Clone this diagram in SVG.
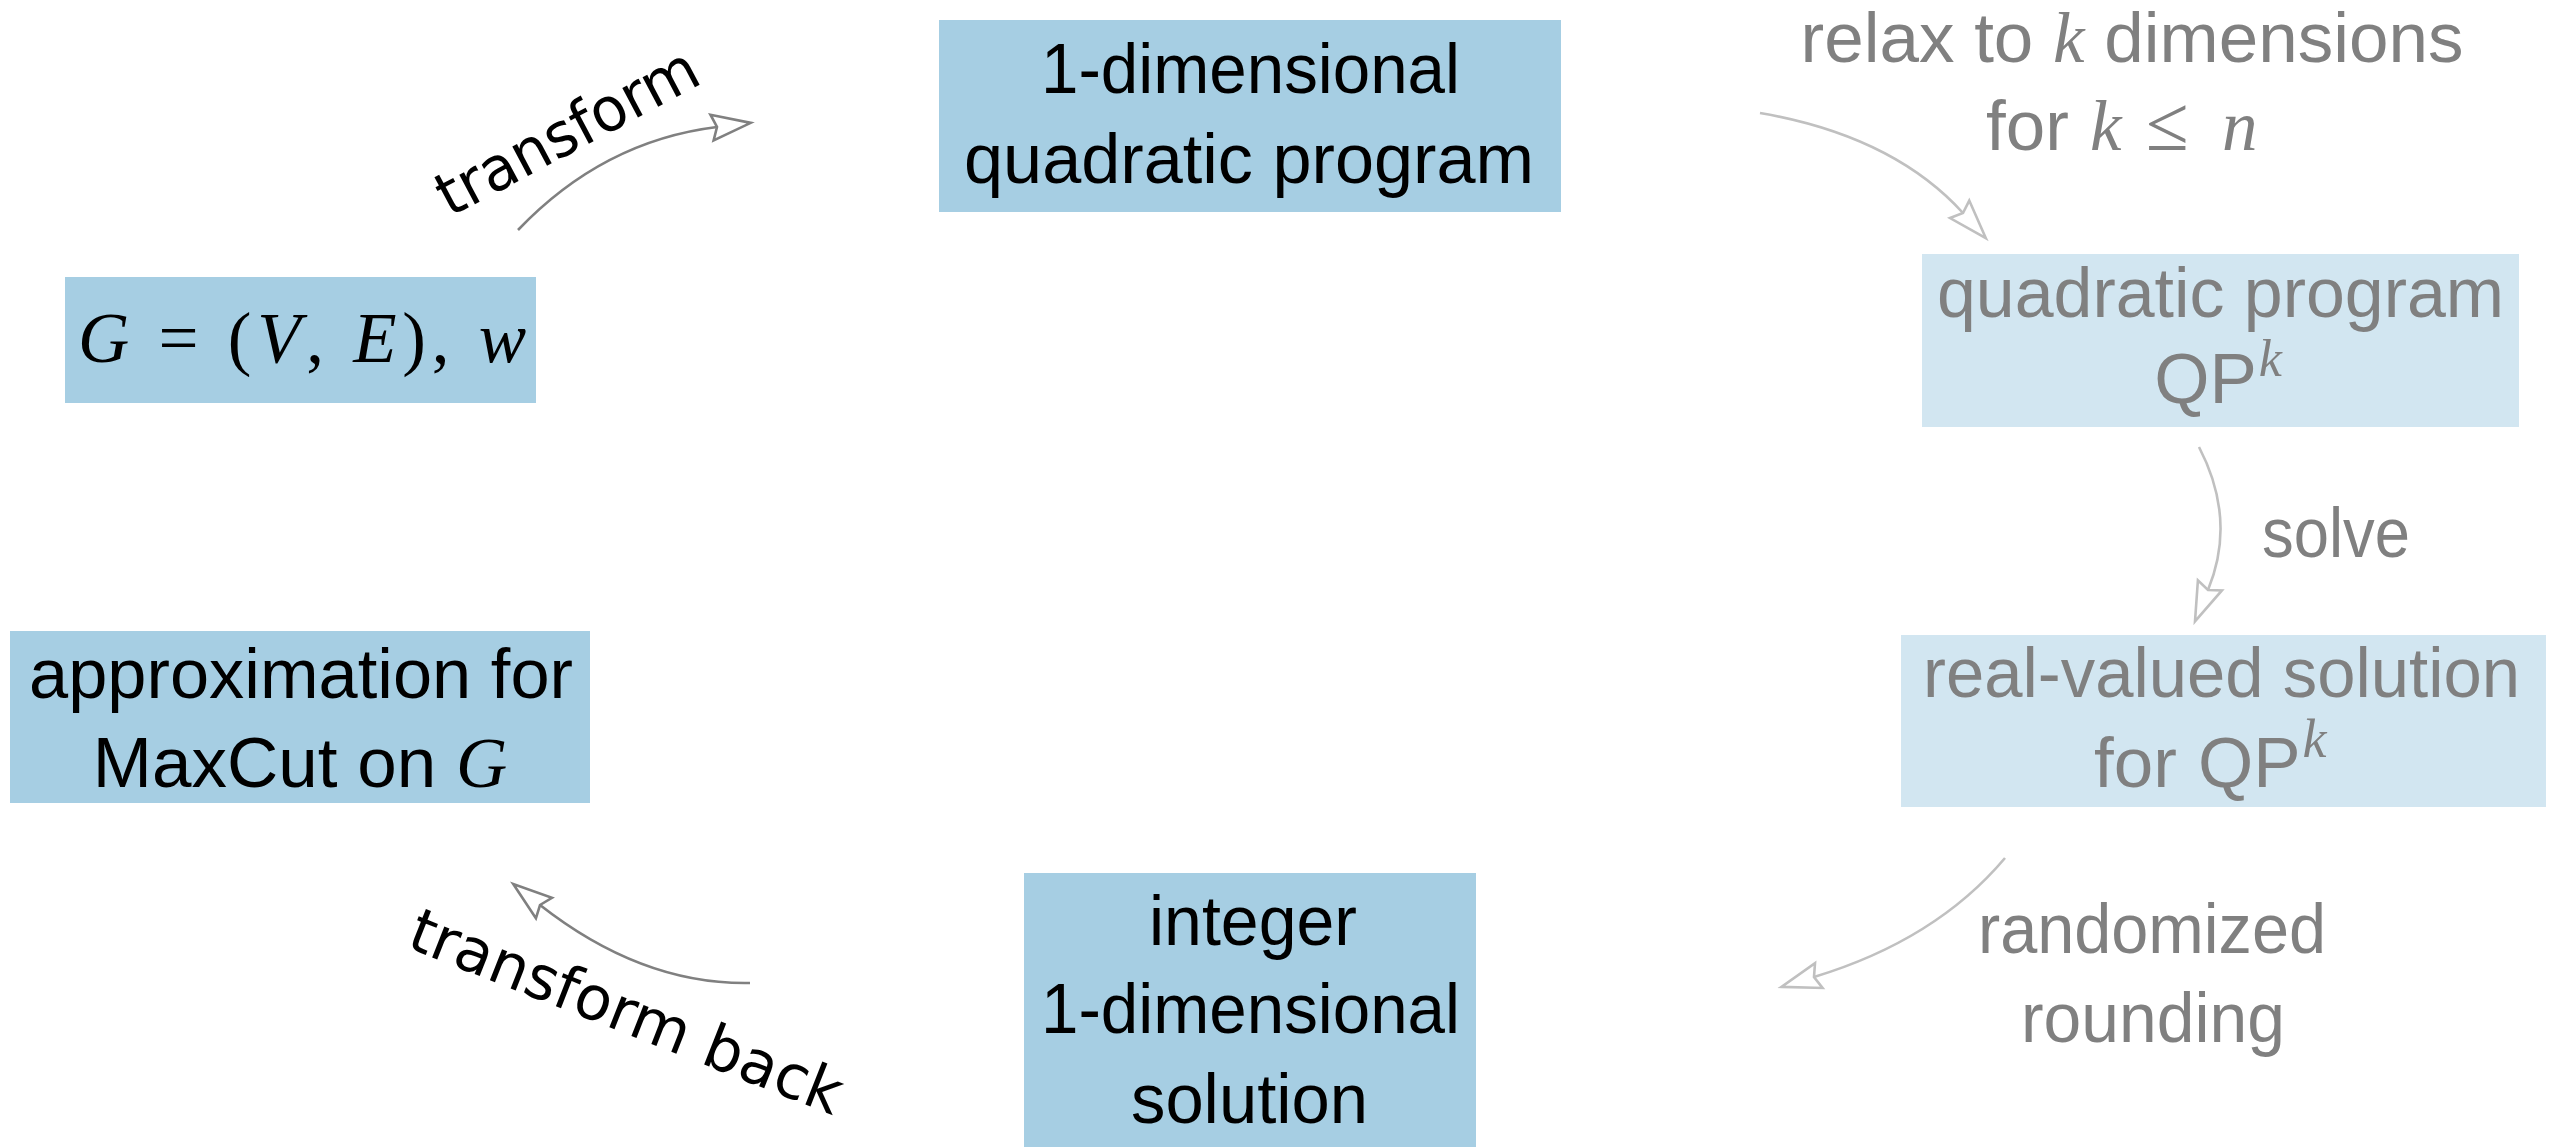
<svg xmlns="http://www.w3.org/2000/svg" width="2559" height="1147" viewBox="0 0 2559 1147">
<style>
.dark{fill:#a6cee3}
.light{fill:#d2e6f1}
.t{font-family:"Liberation Sans",Arial,sans-serif;font-size:71px;fill:#000}
.g{fill:#808080}
.m{font-family:"Liberation Serif","Times New Roman",serif;font-style:italic}
.mu{font-family:"Liberation Serif","Times New Roman",serif}
.lbl{font-family:"DejaVu Sans",sans-serif;font-size:61px;fill:#000}
.cd{fill:none;stroke:#808080;stroke-width:2.6}
.cl{fill:none;stroke:#c0c0c0;stroke-width:2.6}
</style>
<defs>
<marker id="ad" markerUnits="userSpaceOnUse" markerWidth="80" markerHeight="80" refX="0" refY="0" orient="auto" overflow="visible">
<path d="M34,0 L-5,-13 L0,0 L-5,13 Z" fill="#fff" stroke="#808080" stroke-width="2.6" stroke-linejoin="miter"/>
</marker>
<marker id="al" markerUnits="userSpaceOnUse" markerWidth="80" markerHeight="80" refX="0" refY="0" orient="auto" overflow="visible">
<path d="M34,0 L-5,-13 L0,0 L-5,13 Z" fill="#fff" stroke="#c0c0c0" stroke-width="2.6" stroke-linejoin="miter"/>
</marker>
</defs>
<rect width="2559" height="1147" fill="#fff"/>

<g id="connectors">
<path class="cd" d="M518,230 Q603,141 717,127" marker-end="url(#ad)"/>
<path class="cl" d="M1760,113 Q1893,136 1963,213" marker-end="url(#al)"/>
<path class="cl" d="M2199,447 Q2237,520 2208,590" marker-end="url(#al)"/>
<path class="cl" d="M2005,858 Q1936,940 1814,977" marker-end="url(#al)"/>
<path class="cd" d="M750,983 Q642,985 540,905" marker-end="url(#ad)"/>
<text class="lbl" text-anchor="middle" transform="translate(577,150) rotate(-28)" textLength="288" lengthAdjust="spacingAndGlyphs">transform</text>
<text class="lbl" text-anchor="middle" transform="translate(619,1031) rotate(21.5)" textLength="460" lengthAdjust="spacingAndGlyphs">transform back</text>
<text class="t g" x="2132" y="62" text-anchor="middle">relax to <tspan class="m">k</tspan> dimensions</text>
<text class="t g" y="150"><tspan x="1986">for</tspan><tspan class="m" x="2090">k</tspan><tspan class="mu" x="2146" font-size="78">≤</tspan><tspan class="m" x="2222">n</tspan></text>
<text class="t g" x="2262" y="557" textLength="148" lengthAdjust="spacingAndGlyphs">solve</text>
<text class="t g" x="1978" y="953" textLength="348" lengthAdjust="spacingAndGlyphs">randomized</text>
<text class="t g" x="2021" y="1042" textLength="264" lengthAdjust="spacingAndGlyphs">rounding</text>
</g>

<g id="node-graph">
<rect class="dark" x="65" y="277" width="471" height="126"/>
<text class="t mu" x="78" y="362" font-size="80" textLength="448" lengthAdjust="spacing"><tspan class="m">G</tspan> = (<tspan class="m">V</tspan>, <tspan class="m">E</tspan>), <tspan class="m">w</tspan></text>
</g>

<g id="node-1d-qp">
<rect class="dark" x="939" y="20" width="622" height="192"/>
<text class="t" x="1041" y="93" textLength="419" lengthAdjust="spacingAndGlyphs">1-dimensional</text>
<text class="t" x="964" y="183" textLength="570" lengthAdjust="spacingAndGlyphs">quadratic program</text>
</g>

<g id="node-qpk">
<rect class="light" x="1922" y="254" width="597" height="173"/>
<text class="t g" x="1937" y="317" textLength="567" lengthAdjust="spacingAndGlyphs">quadratic program</text>
<text class="t g" x="2218" y="403" text-anchor="middle">QP<tspan class="m" font-size="52" dx="2" dy="-27">k</tspan></text>
</g>

<g id="node-real">
<rect class="light" x="1901" y="635" width="645" height="172"/>
<text class="t g" x="1923" y="697" textLength="597" lengthAdjust="spacingAndGlyphs">real-valued solution</text>
<text class="t g" y="787"><tspan x="2094">for</tspan><tspan x="2198">QP</tspan><tspan class="m" font-size="54" dx="2" dy="-30">k</tspan></text>
</g>

<g id="node-integer">
<rect class="dark" x="1024" y="873" width="452" height="280"/>
<text class="t" x="1149" y="945" textLength="208" lengthAdjust="spacingAndGlyphs">integer</text>
<text class="t" x="1041" y="1033" textLength="419" lengthAdjust="spacingAndGlyphs">1-dimensional</text>
<text class="t" x="1131" y="1123" textLength="237" lengthAdjust="spacingAndGlyphs">solution</text>
</g>

<g id="node-approx">
<rect class="dark" x="10" y="631" width="580" height="172"/>
<text class="t" x="29" y="698" textLength="544" lengthAdjust="spacingAndGlyphs">approximation for</text>
<text class="t" x="300" y="787" text-anchor="middle">MaxCut on <tspan class="m">G</tspan></text>
</g>
</svg>
